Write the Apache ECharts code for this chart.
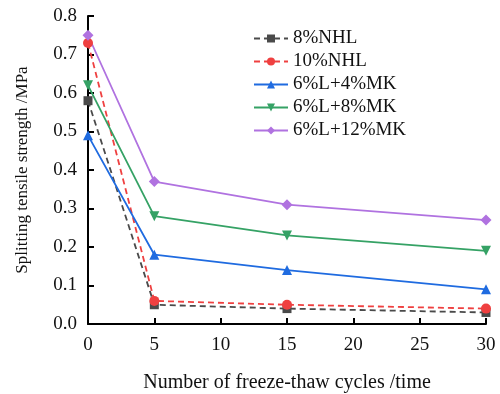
<!DOCTYPE html>
<html><head><meta charset="utf-8">
<script src="https://cdn.jsdelivr.net/npm/echarts@6/dist/echarts.min.js"></script>
<style>html,body{margin:0;padding:0;background:#fff}#c{width:500px;height:394px}</style>
</head><body><div id="c"></div>
<script>
const cycles = [0, 5, 15, 30];
const nhl8 = [0.58, 0.05, 0.04, 0.03];
const nhl10 = [0.73, 0.06, 0.05, 0.04];
const mk4 = [0.49, 0.18, 0.14, 0.09];
const mk8 = [0.62, 0.28, 0.23, 0.19];
const mk12 = [0.75, 0.37, 0.31, 0.27];
const names = ['8%NHL', '10%NHL', '6%L+4%MK', '6%L+8%MK', '6%L+12%MK'];
const xTicks = [0, 5, 10, 15, 20, 25, 30];

const font = 'Liberation Serif';
const defs = [
  {name: names[0], data: nhl8, color: '#4a4a4a', symbol: 'rect', dash: 'dashed', size: 9},
  {name: names[1], data: nhl10, color: '#ef4040', symbol: 'circle', dash: 'dashed', size: 10},
  {name: names[2], data: mk4, color: '#1f6be0', symbol: 'triangle', dash: 'solid', size: 10},
  {name: names[3], data: mk8, color: '#35a265', symbol: 'path://M0,0 L10,0 L5,9 Z', dash: 'solid', size: 10},
  {name: names[4], data: mk12, color: '#b072e0', symbol: 'diamond', dash: 'solid', size: 11}
];
const chart = echarts.init(document.getElementById('c'), null, {renderer: 'canvas'});
chart.setOption({
  animation: false,
  grid: {left: 88, right: 14, top: 16, bottom: 70, outerBoundsMode: 'none', containLabel: false},
  legend: {
    left: 253, top: 29, padding: 0, orient: 'vertical', itemGap: 4, itemWidth: 34, itemHeight: 10,
    textStyle: {fontFamily: font, fontSize: 19, color: '#111'},
    data: names
  },
  xAxis: {
    type: 'value', min: 0, max: 30, interval: 5,
    name: 'Number of freeze-thaw cycles /time', nameLocation: 'middle', nameGap: 49,
    nameTextStyle: {fontFamily: font, fontSize: 20, color: '#111'},
    axisLine: {onZero: false, lineStyle: {color: '#000', width: 2}},
    axisTick: {inside: true, length: 6, lineStyle: {color: '#000', width: 2}},
    axisLabel: {fontFamily: font, fontSize: 19, color: '#111', margin: 12,
      formatter: v => xTicks.includes(v) ? String(v) : ''},
    splitLine: {show: false}
  },
  yAxis: {
    type: 'value', min: 0, max: 0.8, interval: 0.1,
    name: 'Splitting tensile strength /MPa', nameLocation: 'middle', nameGap: 57,
    nameTextStyle: {fontFamily: font, fontSize: 17, color: '#111'},
    axisLine: {show: true, lineStyle: {color: '#000', width: 2}},
    axisTick: {show: true, inside: true, length: 6, lineStyle: {color: '#000', width: 2}},
    axisLabel: {fontFamily: font, fontSize: 19, color: '#111', margin: 11, formatter: v => v.toFixed(1)},
    splitLine: {show: false}
  },
  series: defs.map(d => ({
    name: d.name, type: 'line',
    data: d.data.map((v, i) => [cycles[i], v]),
    symbol: d.symbol, symbolSize: d.size,
    itemStyle: {color: d.color},
    lineStyle: {color: d.color, width: 1.8, type: d.dash === 'dashed' ? [6, 4] : 'solid'}
  }))
});
</script></body></html>
